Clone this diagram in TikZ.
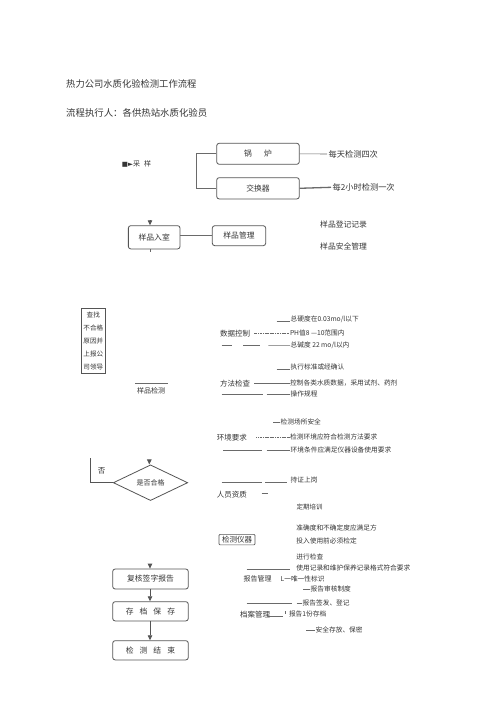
\documentclass[tikz,border=0pt]{standalone}
\usepackage{fontspec}
\setmainfont{Noto Sans CJK SC}
\newfontfamily\dejavu{DejaVu Sans}
\usetikzlibrary{arrows.meta,shapes.geometric,calc}
\definecolor{txtc}{HTML}{353535}
\definecolor{boxc}{HTML}{555555}
\definecolor{linec}{HTML}{6A6A6A}
\newcommand\myfs[1]{\fontsize{#1}{#1}\selectfont}
\begin{document}
\begin{tikzpicture}[x=1pt,y=-1pt,
  every node/.style={text=txtc},
  box/.style={draw=boxc, line width=0.8pt, rounded corners=2.5pt, inner sep=0, font=\myfs{7.8}},
  lbl/.style={anchor=west, inner xsep=0.5pt, inner ysep=0, font=\myfs{6.7}},
  head/.style={anchor=west, inner sep=0, font=\myfs{7.5}},
  ln/.style={draw=linec, line width=0.5pt},
  dln/.style={draw=linec, line width=0.45pt, dash pattern=on 1.2pt off 0.5pt},
  arr/.style={draw=boxc, line width=0.8pt, -{Triangle[width=4.5pt,length=5pt]}},
]
\useasboundingbox[fill=white] (0,0) rectangle (500,709);

% titles
\node[anchor=west, inner sep=0, font=\myfs{9.3}] (title) at (66,83.5) {热力公司水质化验检测工作流程};
\node[anchor=west, inner sep=0, font=\myfs{9.4}] (sub) at (66,113.3) {流程执行人：各供热站水质化验员};

% sampling
\node[anchor=west, inner sep=0, font=\myfs{7}] (cy) at (121.7,164) {{\dejavu\myfs{6.5}■►}采\hspace{4pt}样};
\node[box, minimum width=82.6pt, minimum height=21pt] (gl) at (258,153.8) {锅\hspace{12pt}炉};
\node[box, minimum width=82.6pt, minimum height=21.3pt] (jh) at (258,188.3) {交换器};
\coordinate (brk) at (196.7,153.8);
\draw[ln, line width=0.7pt] (gl.west) -- (brk) |- (jh.west);
\node[head, inner xsep=1.5pt, font=\myfs{8.2}] (t1) at (327,154) {每天检测四次};
\node[head, inner xsep=1.5pt, font=\myfs{8.2}] (t2) at (331,187.3) {每2小时检测一次};
\draw[ln, line width=0.6pt] (gl.east) -- (t1.west);
\draw[ln, line width=1.3pt] (jh.east) -- (t2.west);

% sample room
\node[box, minimum width=51.7pt, minimum height=23.3pt] (rk) at (154.2,237.3) {样品入室\hspace{3pt}};
\node[box, minimum width=53.4pt, minimum height=20pt] (gm) at (239,235.7) {样品管理};
\coordinate (rkin) at (150,220.7);
\draw[arr] (rkin) -- (rkin |- rk.north);
\coordinate (rkout) at (150,252);
\draw[ln] (rkout |- rk.south) -- (rkout);
\draw[ln, line width=0.6pt] (gm.west) -- (gm.west -| rk.east);
\node[head, font=\myfs{7.8}] (dj) at (320,225) {样品登记记录};
\node[head, font=\myfs{7.8}] (aq) at (320,246) {样品安全管理};

% left box
\node[draw=boxc, line width=0.6pt, minimum width=23.3pt, minimum height=65pt, inner sep=0,
      align=center, font=\fontsize{6.6}{13}\selectfont] (cz) at (93.3,340.8)
      {查找\\不合格\\原因并\\上报公\\司领导};
\node[inner sep=0, font=\myfs{7}] (jc) at (151,390.5) {样品检测};
\coordinate (jcl) at (135,383.5);
\coordinate (jcr) at (168.3,383.5);
\draw[ln, line width=0.6pt] (jcl) -- (jcr);

% data control
\node[head] (sjkz) at (220,333.3) {数据控制};
\node[lbl] (ph) at (289.3,333.3) {PH值8\ —10范围内};
\draw[dln] ($(sjkz.east)+(4,0)$) -- (ph.west);
\node[lbl] (zyd) at (290,319) {总硬度在0.03mo/l以下};
\draw[ln] (276.7,321) -- (zyd.south west |- 0,321);
\node[lbl] (zjd) at (290,345.6) {总碱度\ 22\ mo/l以内};
\draw[ln] (221.7,345.7) -- (231.7,345.7);
\draw[ln] (243.3,345.7) -- (260,345.7);
\draw[ln] (268.3,345.7) -- (zjd.west);

% method check
\node[head] (ffjc) at (220,383.3) {方法检查};
\node[lbl] (kz) at (289.5,383.3) {控制各类水质数据，采用试剂、药剂};
\draw[ln] ($(ffjc.east)+(4,0)$) -- (kz.west);
\node[lbl] (zx) at (290,367.3) {执行标准或经确认};
\draw[ln] (276.7,369.7) -- (290,369.7);
\node[lbl] (cz2) at (290,394.3) {操作规程};
\draw[ln] (221.7,394.3) -- (263.3,394.3);
\draw[ln] (266.7,394.3) -- (cz2.west);

% environment
\node[lbl] (csaq) at (280,422.3) {检测场所安全};
\draw[ln] (273.3,422.3) -- (csaq.west);
\node[head] (hjyq) at (216.7,437.3) {环境要求};
\node[lbl] (hjfh) at (289.5,437.3) {检测环境应符合检测方法要求};
\draw[dln] ($(hjyq.east)+(9,0)$) -- (hjfh.west);
\node[lbl] (hjtj) at (290,450.3) {环境条件应满足仪器设备使用要求};
\draw[ln] (223.3,450.3) -- (261.7,450.3);
\draw[ln] (266.7,450.3) -- (hjtj.west);

% decision diamond
\node[diamond, draw=boxc, line width=0.8pt, inner sep=0, minimum width=74.4pt, minimum height=35.7pt,
      font=\myfs{7}] (hg) at (150.5,482.7) {是否合格};
\coordinate (hgin) at (149.3,459.5);
\draw[arr] (hgin) -- (hgin |- hg.north);
\coordinate (fou) at (90,458.3);
\draw[draw=boxc, line width=0.8pt] (hg.west) -| (fou);
\node[inner sep=0, font=\myfs{7.5}] (foul) at (101.7,471) {否};

% personnel
\node[lbl] (cz3) at (290,480.3) {持证上岗};
\draw[ln] (221.7,482.3) -- (261.7,482.3);
\draw[ln] (265,482.3) -- (286.7,482.3);
\node[head] (ryzz) at (216.7,495) {人员资质};
\coordinate (ryd1) at (261.7,493.3);
\coordinate (ryd2) at (268.3,493.3);
\draw[ln] (ryd1) -- (ryd2);
\node[lbl, font=\myfs{6.5}] (pxun) at (296,507) {定期培训};

% instruments
\node[draw=boxc, line width=0.6pt, rounded corners=1pt, inner sep=0, minimum width=36pt, minimum height=10.5pt,
      font=\myfs{7.5}] (yq) at (237,539.6) {检测仪器};
\node[lbl] (zqd) at (295.7,528.3) {准确度和不确定度应满足方};
\node[lbl] (trsy) at (295.7,540.7) {投入使用前必须检定};
\node[lbl] (jxjc) at (295.7,557) {进行检查};
\node[lbl] (syjl) at (295.7,568.3) {使用记录和维护保养记录格式符合要求};
\draw[ln] (246.7,569) -- (290,569);

% report management
\node[head, font=\myfs{7}] (bggl) at (243.3,579) {报告管理};
\node[lbl] (wy) at (280,579) {L一唯一性标识};
\node[lbl] (shzd) at (310,589) {报告审核制度};
\draw[ln] (303.3,589) -- (shzd.west);
\node[lbl] (qf) at (302,603.3) {报告签发、登记};
\draw[ln] (246.7,603.3) -- (291.7,603.3);
\draw[ln] (296.7,603.3) -- (qf.west);

% archive
\node[head] (dagl) at (240,614.3) {档案管理};
\node[lbl] (cd) at (288.3,614.3) {报告1份存档};
\draw[ln] (267.7,616.3) -- (283.3,616.3);
\draw[ln] (285.3,611.3) -- (285.3,614);
\node[lbl] (bm) at (315,630) {安全存放、保密};
\draw[ln] (306,630) -- (bm.west);

% bottom chain
\node[box, minimum width=75.6pt, minimum height=20pt] (fh) at (150.5,579) {复核签字报告};
\node[box, minimum width=75.6pt, minimum height=19.3pt] (cd2) at (150.5,611.3) {存\hspace{6pt}档\hspace{6pt}保\hspace{6pt}存};
\node[box, minimum width=75.6pt, minimum height=19.3pt] (js) at (150.5,650.3) {检\hspace{6pt}测\hspace{6pt}结\hspace{6pt}束};
\coordinate (fhin) at (150,563.5);
\draw[arr] (fhin) -- (fhin |- fh.north);
\draw[arr] (fh.south -| fhin) -- (cd2.north -| fhin);
\draw[arr] (cd2.south -| fhin) -- (js.north -| fhin);
\end{tikzpicture}
\end{document}
